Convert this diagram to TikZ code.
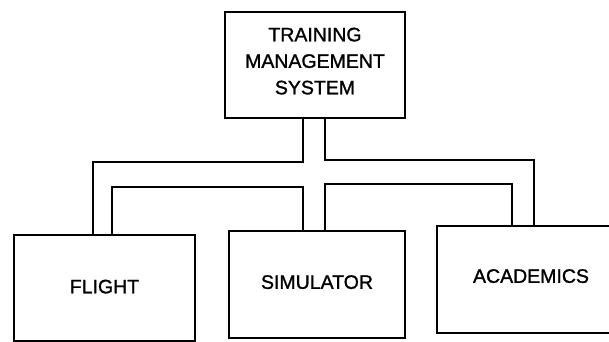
\documentclass[tikz,border=0pt]{standalone}
\usepackage{fontspec}
\setmainfont{Liberation Sans}
\newfontfamily\scanfont{Liberation Sans}[FakeBold=1.2]
\begin{document}
\begin{tikzpicture}[x=1pt,y=-1pt,
  box/.style={draw=black,line width=2.2pt,fill=white,inner sep=0pt,align=center,
    font=\scanfont\fontsize{19.5}{26.5}\selectfont},
  pipe/.style={draw=black,line width=2.1pt,line join=miter}]
\useasboundingbox[fill=white] (0,0) rectangle (609,341);
\node[box,minimum width=180pt,minimum height=106pt,text depth=8pt] (tms) at (315,65) {TRAINING\\MANAGEMENT\\SYSTEM};
\node[box,minimum width=181pt,minimum height=106pt,text depth=3pt] (flight) at (104.5,288) {FLIGHT};
\node[box,minimum width=176pt,minimum height=107pt,text depth=5pt] (sim) at (317,284.5) {SIMULATOR};
\node[box,minimum width=188pt,minimum height=107pt,text depth=7pt] (acad) at (531,279.5) {ACADEMICS};
\coordinate (xa) at (93,0);
\coordinate (xb) at (112,0);
\coordinate (xc) at (303,0);
\coordinate (xd) at (325,0);
\coordinate (xe) at (512,0);
\coordinate (xf) at (534,0);
\coordinate (yo1) at (0,162);
\coordinate (yo2) at (0,160);
\coordinate (yi1) at (0,187);
\coordinate (yi2) at (0,184);
\draw[pipe] (tms.south -| xc) -- (xc |- yo1) -- (xa |- yo1) -- (flight.north -| xa);
\draw[pipe] (tms.south -| xd) -- (xd |- yo2) -- (xf |- yo2) -- (acad.north -| xf);
\draw[pipe] (flight.north -| xb) -- (xb |- yi1) -- (xc |- yi1) -- (sim.north -| xc);
\draw[pipe] (sim.north -| xd) -- (xd |- yi2) -- (xe |- yi2) -- (acad.north -| xe);
\end{tikzpicture}
\end{document}
